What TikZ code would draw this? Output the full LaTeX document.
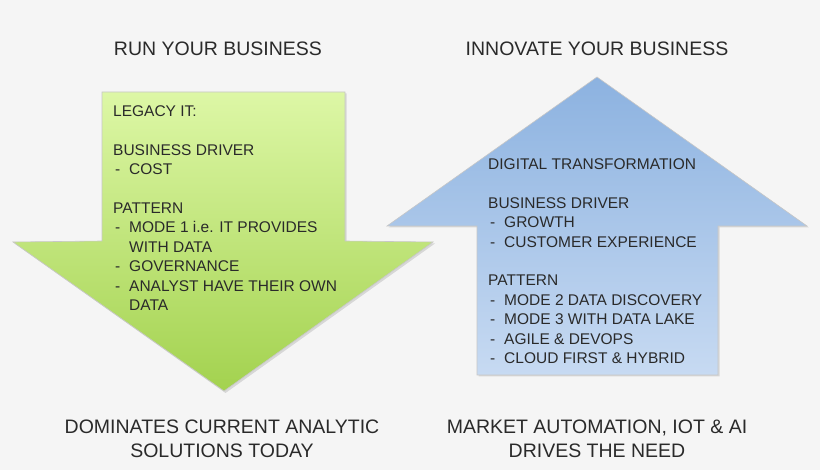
\documentclass[tikz,border=0pt]{standalone}
\usepackage{fontspec}
\setmainfont{Liberation Sans}
\usepackage{tikz}
\usetikzlibrary{positioning}
\usepackage{xcolor}
\definecolor{colfondo}{HTML}{F5F5F5}
\definecolor{colverdeA}{HTML}{DDF7A6}
\definecolor{colverdeB}{HTML}{A3D24F}
\definecolor{colazulA}{HTML}{8CB2E0}
\definecolor{colazulB}{HTML}{C7DAF2}
\definecolor{coltinta}{HTML}{2A2A2A}
\newcommand{\punto}[1]{\makebox[16pt][l]{\hspace{2pt}-}#1}
\newcommand{\sangria}{\hspace*{16pt}}

\begin{document}
\begin{tikzpicture}[
  x=1pt,y=-1pt,
  titulo/.style={text=coltinta,font=\fontsize{19.5}{24}\selectfont,align=center,inner sep=0pt},
  lista/.style={text=coltinta,font=\fontsize{15.5}{19.4}\selectfont,align=left,anchor=north west,inner sep=0pt},
  flecha/.style={draw=black!22,line width=0.6pt},
  sombra/.style={fill=black,opacity=0.12},
]
  \fill[colfondo] (0,0) rectangle (820,470);
  \useasboundingbox (0,0) rectangle (820,470);
  % ---- flecha izquierda: hacia abajo ----
  \begin{scope}
    \fill[sombra] (103.5,93.5) -- (346.5,93.5) -- (346.5,242.5) -- (435,243.5)
      -- (225.5,393) -- (14.5,243.5) -- (103.5,242.5) -- cycle;
    \shade[flecha,top color=colverdeA,bottom color=colverdeB]
      (102,92) -- (345,92) -- (345,241) -- (433,242) -- (224,391)
      -- (13,242) -- (102,241) -- cycle;
    \node[lista] (legado) at (113,105.5) {LEGACY IT:\\[19.4pt]
      BUSINESS DRIVER\\
      \punto{COST}\\[19.4pt]
      PATTERN\\
      \punto{MODE 1 i.e. IT PROVIDES}\\
      \sangria WITH DATA\\
      \punto{GOVERNANCE}\\
      \punto{ANALYST HAVE THEIR OWN}\\
      \sangria DATA};
    \node[titulo] (run) at (218,49) {RUN YOUR BUSINESS};
    \node[titulo] (domina) at (222,439) {DOMINATES CURRENT ANALYTIC\\SOLUTIONS TODAY};
  \end{scope}
  % ---- flecha derecha: hacia arriba ----
  \begin{scope}
    \fill[sombra] (598.5,78.5) -- (809,227.5) -- (719.5,227.5) -- (719.5,376.5)
      -- (478.5,376.5) -- (478.5,227.5) -- (388.5,227.5) -- cycle;
    \shade[flecha,top color=colazulA,bottom color=colazulB]
      (597,77) -- (807,226) -- (718,226) -- (718,375)
      -- (477,375) -- (477,226) -- (387,226) -- cycle;
    \node[lista] (digital) at (488,158.5) {DIGITAL TRANSFORMATION\\[19.4pt]
      BUSINESS DRIVER\\
      \punto{GROWTH}\\
      \punto{CUSTOMER EXPERIENCE}\\[19.4pt]
      PATTERN\\
      \punto{MODE 2 DATA DISCOVERY}\\
      \punto{MODE 3 WITH DATA LAKE}\\
      \punto{AGILE \& DEVOPS}\\
      \punto{CLOUD FIRST \& HYBRID}};
    \node[titulo] (innova) at (597,49) {INNOVATE YOUR BUSINESS};
    \node[titulo] (mercado) at (597,439) {MARKET AUTOMATION, IOT \& AI\\DRIVES THE NEED};
  \end{scope}
\end{tikzpicture}
\end{document}
